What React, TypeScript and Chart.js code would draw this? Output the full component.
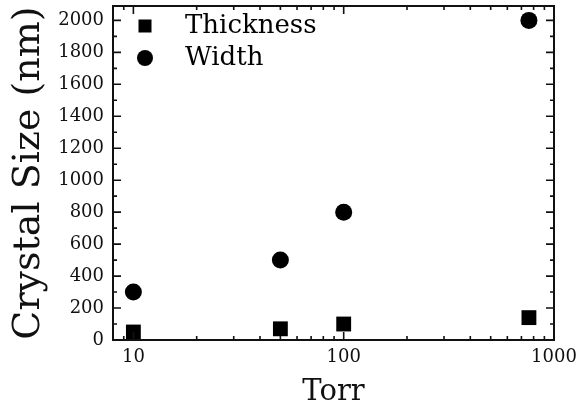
import React, { useEffect, useRef } from "react";
import { Chart, registerables } from "chart.js";

Chart.register(...registerables);

// ---- data ----
const torr = [10, 50, 100, 760];
const thicknessNm = [50, 70, 100, 140];
const widthNm = [300, 500, 800, 2000];
const seriesNames = ["Thickness", "Width"];
const yTickValues = [0, 200, 400, 600, 800, 1000, 1200, 1400, 1600, 1800, 2000];
const yMinorValues = [100, 300, 500, 700, 900, 1100, 1300, 1500, 1700, 1900];
const xTickValues = [10, 100, 1000];
const xMinorValues = [8, 9, 20, 30, 40, 50, 60, 70, 80, 90, 200, 300, 400, 500, 600, 700, 800, 900];
const xTitle = "Torr";
const yTitle = "Crystal Size (nm)";
const X_MIN = 8;
const X_MAX = 1000;
const Y_MIN = 0;
const Y_MAX = 2090;

const FONT = "'DejaVu Serif', serif";

const frameTicks = {
  id: "frameTicks",
  afterDatasetsDraw(chart: any) {
    const { ctx, chartArea: a, scales } = chart;
    const xs = scales.x;
    const ys = scales.y;
    ctx.save();
    ctx.strokeStyle = "#111";
    ctx.lineWidth = 1.6;
    const major = 8;
    const minor = 4;
    ctx.beginPath();
    for (const v of yTickValues) {
      const y = ys.getPixelForValue(v);
      ctx.moveTo(a.left, y); ctx.lineTo(a.left + major, y);
      ctx.moveTo(a.right, y); ctx.lineTo(a.right - major, y);
    }
    for (const v of yMinorValues) {
      const y = ys.getPixelForValue(v);
      ctx.moveTo(a.left, y); ctx.lineTo(a.left + minor, y);
      ctx.moveTo(a.right, y); ctx.lineTo(a.right - minor, y);
    }
    for (const v of xTickValues) {
      const x = xs.getPixelForValue(v);
      ctx.moveTo(x, a.bottom); ctx.lineTo(x, a.bottom - major);
      ctx.moveTo(x, a.top); ctx.lineTo(x, a.top + major);
    }
    for (const v of xMinorValues) {
      const x = xs.getPixelForValue(v);
      ctx.moveTo(x, a.bottom); ctx.lineTo(x, a.bottom - minor);
      ctx.moveTo(x, a.top); ctx.lineTo(x, a.top + minor);
    }
    ctx.stroke();
    ctx.lineWidth = 2;
    ctx.strokeRect(a.left, a.top, a.right - a.left, a.bottom - a.top);

    // legend inside plot
    ctx.fillStyle = "#000";
    const mx = a.left + 32;
    const y1 = a.top + 20;
    const y2 = a.top + 52;
    ctx.fillRect(mx - 6.5, y1 - 6.5, 13, 13);
    ctx.beginPath();
    ctx.arc(mx, y2, 8, 0, Math.PI * 2);
    ctx.fill();
    ctx.font = "26px " + FONT;
    ctx.textBaseline = "middle";
    ctx.textAlign = "left";
    ctx.fillText(seriesNames[0], a.left + 72, y1);
    ctx.fillText(seriesNames[1], a.left + 72, y2);
    ctx.restore();
  },
};

export default function App() {
  const ref = useRef<HTMLCanvasElement | null>(null);
  useEffect(() => {
    if (!ref.current) return;
    const chart = new Chart(ref.current, {
      type: "scatter",
      data: {
        datasets: [
          {
            label: seriesNames[0],
            data: torr.map((t, i) => ({ x: t, y: thicknessNm[i] })),
            pointStyle: "rect",
            pointRadius: 10.5,
            backgroundColor: "#000",
            borderColor: "#000",
            borderWidth: 0,
          },
          {
            label: seriesNames[1],
            data: torr.map((t, i) => ({ x: t, y: widthNm[i] })),
            pointStyle: "circle",
            pointRadius: 8.5,
            backgroundColor: "#000",
            borderColor: "#000",
            borderWidth: 0,
          },
        ],
      },
      options: {
        animation: false,
        responsive: false,
        maintainAspectRatio: false,
        layout: { autoPadding: false, padding: { top: 6, right: 32, left: 0, bottom: 0 } },
        plugins: { legend: { display: false }, tooltip: { enabled: false } },
        scales: {
          x: {
            type: "logarithmic",
            min: X_MIN,
            max: X_MAX,
            grid: { display: false, drawTicks: false },
            border: { display: false },
            afterBuildTicks: (s: any) => {
              s.ticks = xTickValues.map((v) => ({ value: v }));
            },
            afterFit: (s: any) => {
              s.height = 64;
            },
            ticks: {
              autoSkip: false,
              maxRotation: 0,
              padding: 7,
              color: "#111",
              font: { family: FONT, size: 18 },
              callback: (v: any) => String(v),
            },
            title: {
              display: true,
              text: xTitle,
              color: "#111",
              font: { family: FONT, size: 29, lineHeight: 0.8 },
              padding: { top: 0, bottom: 0 },
            },
          },
          y: {
            min: Y_MIN,
            max: Y_MAX,
            grid: { display: false, drawTicks: false },
            border: { display: false },
            afterBuildTicks: (s: any) => {
              s.ticks = yTickValues.map((v) => ({ value: v }));
            },
            afterFit: (s: any) => {
              s.width = 113;
              s.paddingTop = 0;
              s.paddingBottom = 0;
            },
            ticks: {
              autoSkip: false,
              padding: 9,
              color: "#111",
              font: { family: FONT, size: 18, lineHeight: 0.5 },
              callback: (v: any) => String(v),
            },
            title: {
              display: true,
              text: yTitle,
              color: "#111",
              font: { family: FONT, size: 38, lineHeight: 1.2 },
              padding: { top: 6, bottom: 0 },
            },
          },
        },
      },
      plugins: [frameTicks],
    } as any);
    return () => chart.destroy();
  }, []);
  return (
    <div style={{ position: "absolute", left: 0, top: 0, width: 586, height: 404, background: "#fff" }}>
      <canvas ref={ref} width={586} height={404} style={{ display: "block", width: 586, height: 404 }} />
    </div>
  );
}
